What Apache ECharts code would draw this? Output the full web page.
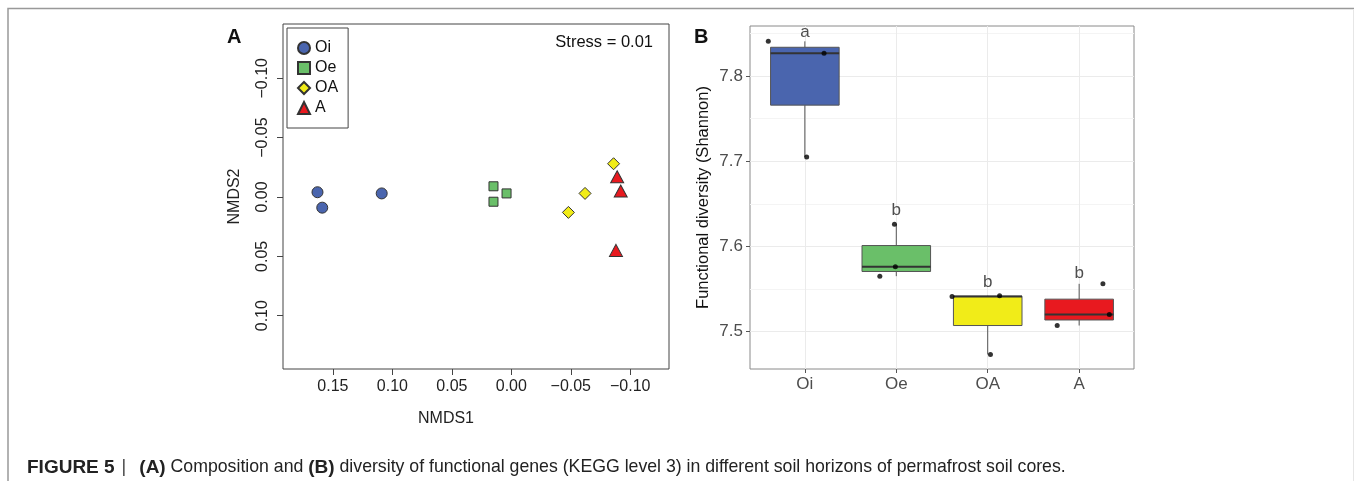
<!DOCTYPE html>
<html>
<head>
<meta charset="utf-8">
<script src="https://cdn.jsdelivr.net/npm/echarts@6/dist/echarts.min.js"></script>
<style>
html, body { margin: 0; padding: 0; background: #fff; }
#main { width: 1354px; height: 481px; }
</style>
</head>
<body>
<div id="main"></div>
<script>
var groups = ['Oi', 'Oe', 'OA', 'A'];
var groupColors = ['#4a65ae', '#6abf69', '#f1ec18', '#e8191f'];
var groupSymbols = ['circle', 'rect', 'diamond', 'triangle'];
var groupSymbolSizes = [11, 9, 12, [13, 12]];

// panel A, NMDS scores [NMDS1, NMDS2]
var nmdsOi = [[0.163, -0.004], [0.159, 0.009], [0.109, -0.003]];
var nmdsOe = [[0.015, -0.009], [0.015, 0.004], [0.004, -0.003]];
var nmdsOA = [[-0.086, -0.028], [-0.062, -0.003], [-0.048, 0.013]];
var nmdsA = [[-0.089, -0.017], [-0.092, -0.005], [-0.088, 0.045]];
var nmdsTicks1 = [-0.10, -0.05, 0, 0.05, 0.10, 0.15];
var nmdsTicks2 = [-0.10, -0.05, 0, 0.05, 0.10];

// panel B, Shannon index per core
var shannonOi = [7.841, 7.827, 7.705];
var shannonOe = [7.626, 7.576, 7.565];
var shannonOA = [7.541, 7.542, 7.473];
var shannonA = [7.556, 7.507, 7.520];
// horizontal jitter of the dots (in category units)
var jitterOi = [-0.40, 0.21, 0.02];
var jitterOe = [-0.02, -0.01, -0.18];
var jitterOA = [-0.39, 0.13, 0.03];
var jitterA = [0.26, -0.24, 0.33];
var letters = ['a', 'b', 'b', 'b'];
var letterY = [7.852, 7.642, 7.558, 7.568];
var shannonTicks = [7.5, 7.6, 7.7, 7.8];

var FONT = '"Liberation Sans", Arial, Helvetica, sans-serif';
var chart = echarts.init(document.getElementById('main'));

function minusFmt(v) {
    var s = Math.abs(v).toFixed(2);
    return v < -1e-9 ? '\u2212' + s : s;
}
function quantile(sorted, p) {
    var h = (sorted.length - 1) * p;
    var lo = Math.floor(h);
    var hi = Math.ceil(h);
    return sorted[lo] + (sorted[hi] - sorted[lo]) * (h - lo);
}
function boxStats(vals, i) {
    var s = vals.slice().sort(function (a, b) { return a - b; });
    var q1 = quantile(s, 0.25), q3 = quantile(s, 0.75), iqr = q3 - q1;
    var inside = s.filter(function (v) { return v >= q1 - 1.5 * iqr && v <= q3 + 1.5 * iqr; });
    return [i + 1, inside[0], q1, quantile(s, 0.5), q3, inside[inside.length - 1]];
}

var nmdsSets = [nmdsOi, nmdsOe, nmdsOA, nmdsA];
var shannonSets = [shannonOi, shannonOe, shannonOA, shannonA];
var jitterSets = [jitterOi, jitterOe, jitterOA, jitterA];

var boxData = [];
var dotData = [];
var letterData = [];
for (var i = 0; i < groups.length; i++) {
    boxData.push(boxStats(shannonSets[i], i));
    for (var j = 0; j < shannonSets[i].length; j++) {
        dotData.push([i + 1 + jitterSets[i][j], shannonSets[i][j]]);
    }
    letterData.push([i + 1, letterY[i], letters[i]]);
}

function renderBox(params, api) {
    var x = api.value(0);
    var low = api.coord([x, api.value(1)]);
    var q1 = api.coord([x, api.value(2)]);
    var med = api.coord([x, api.value(3)]);
    var q3 = api.coord([x, api.value(4)]);
    var high = api.coord([x, api.value(5)]);
    var hw = api.size([0.75, 0])[0] / 2;
    return {
        type: 'group',
        children: [
            { type: 'line', shape: { x1: low[0], y1: low[1], x2: q1[0], y2: q1[1] }, style: { stroke: '#555', lineWidth: 1 } },
            { type: 'line', shape: { x1: q3[0], y1: q3[1], x2: high[0], y2: high[1] }, style: { stroke: '#555', lineWidth: 1 } },
            { type: 'rect', shape: { x: q3[0] - hw, y: q3[1], width: hw * 2, height: q1[1] - q3[1] },
              style: { fill: groupColors[params.dataIndex], stroke: '#555', lineWidth: 1 } },
            { type: 'line', shape: { x1: med[0] - hw, y1: med[1], x2: med[0] + hw, y2: med[1] }, style: { stroke: '#333', lineWidth: 2 } }
        ]
    };
}

var seriesList = [];
for (var k = 0; k < groups.length; k++) {
    seriesList.push({
        name: groups[k],
        type: 'scatter',
        xAxisIndex: 0,
        yAxisIndex: 0,
        symbol: groupSymbols[k],
        symbolSize: groupSymbolSizes[k],
        itemStyle: { color: groupColors[k], borderColor: '#333', borderWidth: 1, opacity: 1 },
        data: nmdsSets[k]
    });
}
seriesList.push({
    name: 'box',
    type: 'custom',
    xAxisIndex: 1,
    yAxisIndex: 1,
    renderItem: renderBox,
    encode: { x: 0, y: [1, 2, 3, 4, 5] },
    data: boxData,
    z: 2
});
seriesList.push({
    name: 'cores',
    type: 'scatter',
    xAxisIndex: 1,
    yAxisIndex: 1,
    symbolSize: 5,
    itemStyle: { color: '#000' },
    data: dotData,
    z: 3
});
seriesList.push({
    name: 'letters',
    type: 'scatter',
    xAxisIndex: 1,
    yAxisIndex: 1,
    symbolSize: 1,
    itemStyle: { color: 'rgba(0,0,0,0)' },
    label: {
        show: true, position: 'inside', fontSize: 17, color: '#222', fontFamily: FONT,
        formatter: function (p) { return p.value[2]; }
    },
    data: letterData,
    z: 4
});

var option = {
    animation: false,
    textStyle: { fontFamily: FONT },
    grid: [
        { left: 283, top: 24, width: 386, height: 345, show: true, borderColor: '#444', borderWidth: 1, backgroundColor: 'transparent' },
        { left: 750, top: 26, width: 384, height: 343, show: true, borderColor: '#8a8a8a', borderWidth: 1, backgroundColor: 'transparent' }
    ],
    xAxis: [
        {
            gridIndex: 0, type: 'value', inverse: true, min: -0.1326, max: 0.192,
            axisLine: { show: false, onZero: false },
            axisTick: { show: true, length: 6, customValues: nmdsTicks1, lineStyle: { color: '#444' } },
            axisLabel: { fontSize: 16, color: '#222', margin: 10, customValues: nmdsTicks1, formatter: minusFmt },
            splitLine: { show: false }
        },
        {
            gridIndex: 1, type: 'value', min: 0.4, max: 4.6,
            axisLine: { show: false, onZero: false },
            axisTick: { show: true, length: 4, customValues: [1, 2, 3, 4], lineStyle: { color: '#555' } },
            axisLabel: {
                fontSize: 17, color: '#4d4d4d', margin: 7, customValues: [1, 2, 3, 4],
                formatter: function (v) { return Math.abs(v - Math.round(v)) < 1e-6 ? (groups[Math.round(v) - 1] || '') : ''; }
            },
            splitLine: { show: true, lineStyle: { color: '#ebebeb', width: 1 } }
        }
    ],
    yAxis: [
        {
            gridIndex: 0, type: 'value', inverse: true, min: -0.1457, max: 0.1449,
            name: 'NMDS2', nameLocation: 'middle', nameGap: 40,
            nameTextStyle: { fontSize: 16, color: '#222' },
            axisLine: { show: false, onZero: false },
            axisTick: { show: true, length: 6, customValues: nmdsTicks2, lineStyle: { color: '#444' } },
            axisLabel: { fontSize: 16, color: '#222', margin: 12, rotate: 90, customValues: nmdsTicks2, formatter: minusFmt },
            splitLine: { show: false }
        },
        {
            gridIndex: 1, type: 'value', min: 7.4559, max: 7.859,
            name: 'Functional diversity (Shannon)', nameLocation: 'middle', nameGap: 38,
            nameTextStyle: { fontSize: 16.5, color: '#111' },
            axisLine: { show: false, onZero: false },
            axisTick: { show: true, length: 4, customValues: shannonTicks, lineStyle: { color: '#555' } },
            axisLabel: {
                fontSize: 17, color: '#4d4d4d', margin: 7, customValues: shannonTicks,
                formatter: function (v) { return v.toFixed(1); }
            },
            splitLine: { show: true, lineStyle: { color: '#ebebeb', width: 1 } },
            minorTick: { show: false, splitNumber: 2 },
            minorSplitLine: { show: true, lineStyle: { color: '#f4f4f4', width: 1 } }
        }
    ],
    legend: {
        orient: 'vertical',
        left: 287,
        top: 28,
        data: groups,
        itemWidth: 12,
        itemHeight: 12,
        itemGap: 4,
        padding: [12, 10, 12, 10],
        borderColor: '#444',
        borderWidth: 1,
        borderRadius: 0,
        backgroundColor: '#fff',
        textStyle: { fontSize: 16, color: '#111' }
    },
    graphic: [
        { type: 'polyline', shape: { points: [[8, 481], [8, 8.5], [1354, 8.5]] }, style: { stroke: '#999', fill: null, lineWidth: 1.5 } },
        { type: 'line', shape: { x1: 1353.5, y1: 9, x2: 1353.5, y2: 481 }, style: { stroke: '#e6e6e6', lineWidth: 1 } },
        { type: 'text', left: 227, top: 27, style: { text: 'A', font: 'bold 20px ' + FONT, fill: '#111' } },
        { type: 'text', left: 694, top: 27, style: { text: 'B', font: 'bold 20px ' + FONT, fill: '#111' } },
        { type: 'text', right: 1354 - 653, top: 34, style: { text: 'Stress = 0.01', font: '16.5px ' + FONT, fill: '#111' } },
        { type: 'text', x: 446, y: 419, style: { text: 'NMDS1', font: '16px ' + FONT, fill: '#222', align: 'center', verticalAlign: 'middle' } },
        {
            type: 'text', left: 27, top: 458,
            style: {
                text: '{b|FIGURE 5}{sep||}{b|(A)} Composition and {b|(B)} diversity of functional genes (KEGG level 3) in different soil horizons of permafrost soil cores.',
                font: '17.7px ' + FONT,
                fill: '#222',
                rich: {
                    b: { fontWeight: 'bold', fontSize: 19, fontFamily: FONT, fill: '#222' },
                    sep: { fontSize: 18, fontFamily: FONT, fill: '#444', padding: [0, 13, 0, 7] }
                }
            }
        }
    ],
    series: seriesList
};
chart.setOption(option);
</script>
</body>
</html>
